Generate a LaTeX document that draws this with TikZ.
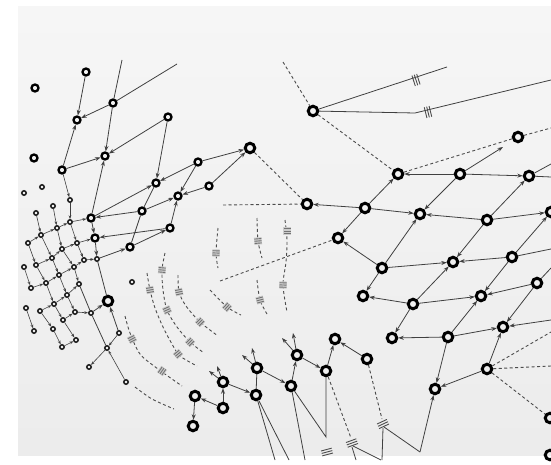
\documentclass[tikz,border=0pt]{standalone}
\usetikzlibrary{arrows.meta,calc}
\begin{document}
\begin{tikzpicture}[x=1pt,y=-1pt,
 bignode/.style={circle,draw=black,line width=3pt,minimum size=9.5pt,inner sep=0pt},
 midnode/.style={circle,draw=black,line width=2.3pt,minimum size=7pt,inner sep=0pt},
 smlnode/.style={circle,draw=black!90,line width=1.5pt,minimum size=4.4pt,inner sep=0pt},
 ln/.style={draw=black!75,line width=0.8pt},
 ar/.style={ln,-{Stealth[length=5.5pt,width=4pt]}},
 sar/.style={ln,line width=0.6pt,-{Stealth[length=3.8pt,width=2.8pt]}},
 dsh/.style={draw=black!70,line width=0.9pt,dash pattern=on 3pt off 2.5pt},
 hst/.style={draw=black!55,line width=0.9pt},
 hatchS/.pic={\fill[black!20] (-3.6,-3.8) rectangle (3.6,3.8); \draw[hst] (-2.2,-3.5)--(-2.2,3.5) (0,-3.5)--(0,3.5) (2.2,-3.5)--(2.2,3.5);},
 hatchL/.pic={\draw[hst,draw=black!70] (-2.5,-5.5)--(-2.5,5.5) (0,-5.5)--(0,5.5) (2.5,-5.5)--(2.5,5.5);}]
\useasboundingbox (0,0) rectangle (551,465);
\fill[white] (0,0) rectangle (551,465);
\shade[top color=gray!7,bottom color=gray!15] (18,7) rectangle (551,455);

% ---------- upper-left tree ----------
\node[midnode] (a1) at (35,88) {};
\node[midnode] (a2) at (86,72) {};
\node[midnode] (a3) at (113,103) {};
\node[midnode] (a4) at (77,120) {};
\node[midnode] (a5) at (168,117) {};
\node[midnode] (a6) at (34,158) {};
\node[midnode] (a7) at (105,156) {};
\node[midnode] (a8) at (62,170) {};
\node[midnode] (a9) at (198,162) {};
\node[bignode] (b0) at (250,148) {};
\node[midnode] (b1) at (209,186) {};
\node[midnode] (b2) at (156,183) {};
\node[midnode] (b3) at (178,196) {};
\node[midnode] (b4) at (142,211) {};
\node[midnode] (b5) at (91,218) {};
\node[midnode] (b6) at (170,228) {};
\node[midnode] (b7) at (95,238) {};
\node[midnode] (b8) at (130,247) {};
\node[smlnode] (s1) at (24,193) {};
\node[smlnode] (s2) at (42,187) {};
\coordinate (f1) at (122,60);
\coordinate (f2) at (177,64);

% ---------- lattice ----------
\node[smlnode] (l02) at (36,213) {};
\node[smlnode] (l03) at (53,206) {};
\node[smlnode] (l04) at (70,200) {};
\node[smlnode] (l11) at (28,243) {};
\node[smlnode] (l12) at (41,235) {};
\node[smlnode] (l13) at (57,228) {};
\node[smlnode] (l14) at (70,222) {};
\node[smlnode] (l20) at (24,267) {};
\node[smlnode] (l21) at (36,265) {};
\node[smlnode] (l22) at (52,258) {};
\node[smlnode] (l23) at (62,249) {};
\node[smlnode] (l24) at (77,243) {};
\node[smlnode] (l30) at (31,288) {};
\node[smlnode] (l31) at (46,283) {};
\node[smlnode] (l32) at (59,275) {};
\node[smlnode] (l33) at (74,267) {};
\node[smlnode] (l34) at (84,260) {};
\node[smlnode] (l35) at (97,259) {};
\node[smlnode] (l4m) at (26,308) {};
\node[smlnode] (l40) at (40,311) {};
\node[smlnode] (l41) at (54,304) {};
\node[smlnode] (l42) at (67,295) {};
\node[smlnode] (l43) at (79,284) {};
\node[smlnode] (l50) at (34,331) {};
\node[smlnode] (l51) at (53,329) {};
\node[smlnode] (l52) at (63,320) {};
\node[smlnode] (l53) at (75,312) {};
\node[smlnode] (l54) at (91,313) {};
\node[smlnode] (l61) at (62,347) {};
\node[smlnode] (l62) at (76,340) {};
\node[bignode] (c0) at (108,301) {};
\node[smlnode] (c1) at (132,282) {};
\node[smlnode] (c2) at (119,333) {};
\node[smlnode] (c3) at (107,348) {};
\node[smlnode] (c4) at (89,367) {};
\node[smlnode] (c5) at (126,382) {};

% ---------- lower middle group ----------
\node[bignode] (d1) at (297,355) {};
\node[bignode] (d2) at (335,339) {};
\node[bignode] (d3) at (367,359) {};
\node[bignode] (d4) at (326,371) {};
\node[bignode] (d5) at (291,386) {};
\node[bignode] (d6) at (257,368) {};
\node[bignode] (d7) at (223,382) {};
\node[bignode] (d8) at (256,395) {};
\node[bignode] (d9) at (195,396) {};
\node[bignode] (d10) at (223,408) {};
\node[bignode] (d11) at (193,426) {};

% ---------- right group ----------
\node[bignode] (e0) at (313,111) {};
\node[bignode] (e1) at (398,174) {};
\node[bignode] (e2) at (460,174) {};
\node[bignode] (e3) at (518,137) {};
\node[bignode] (e4) at (529,176) {};
\node[bignode] (e5) at (307,204) {};
\node[bignode] (e6) at (365,208) {};
\node[bignode] (e7) at (420,214) {};
\node[bignode] (e8) at (487,220) {};
\node[bignode] (e9) at (551,212) {};
\node[bignode] (e10) at (338,238) {};
\node[bignode] (e11) at (382,268) {};
\node[bignode] (e12) at (363,296) {};
\node[bignode] (e13) at (413,304) {};
\node[bignode] (e14) at (453,262) {};
\node[bignode] (e15) at (512,257) {};
\node[bignode] (e16) at (481,296) {};
\node[bignode] (e17) at (537,283) {};
\node[bignode] (e18) at (448,337) {};
\node[bignode] (e19) at (503,327) {};
\node[bignode] (e20) at (392,338) {};
\node[bignode] (e21) at (487,369) {};
\node[bignode] (e22) at (435,389) {};
\node[bignode] (e23) at (550,418) {};
\node[bignode] (e24) at (550,455) {};

\coordinate (f3) at (447,67);
\coordinate (f4) at (415,113);
\coordinate (f5) at (551,80);
\coordinate (f6) at (283,62);
\coordinate (f7) at (551,128);
\coordinate (f8) at (223,205);
\coordinate (f9) at (220,281);
\coordinate (f10) at (503,147);
\coordinate (f11) at (551,164);
\coordinate (f12) at (551,177);
\coordinate (f13) at (551,249);
\coordinate (f14) at (551,268);
\coordinate (f15) at (551,320);
\coordinate (f16) at (551,332);
\coordinate (f17) at (551,366);
\coordinate (f18) at (293,333);
\coordinate (f19) at (282,338);
\coordinate (f20) at (252,348);
\coordinate (f21) at (242,355);
\coordinate (f22) at (217,366);
\coordinate (f23) at (209,371);
\coordinate (f24) at (275,460);
\coordinate (f25) at (289,460);
\coordinate (f26) at (305,460);
\coordinate (v1) at (326,437);
\coordinate (h1) at (352,443);
\coordinate (f28) at (356,460);
\coordinate (f29) at (381,460);
\coordinate (h2) at (383,424);
\coordinate (v2) at (420,452);
\coordinate (f31) at (382,460);
\coordinate (h3) at (327,452);

% ---------- dashed lines ----------
\draw[dsh] (f6) -- (e0) -- (e1);
\draw[dsh] (e1) -- (e3);
\draw[dsh] (e3) -- (f7);
\draw[dsh] (b0) -- (e5);
\draw[dsh] (f8) -- (e5);
\draw[dsh] (f9) -- (e10);
\draw[dsh] (e21) -- (f16);
\draw[dsh] (e21) -- (f17);
\draw[dsh] (e21) -- (e23);
\draw[dsh] (d4) -- ($(h1)+(-1,-5)$);
\draw[dsh] (d3) -- ($(h2)+(-1,-5)$);
% arcs
\draw[dsh] plot[smooth] coordinates {(125,316) (130,333) (140,354) (158,369) (182,386)};
\draw[dsh] plot[smooth] coordinates {(135,387) (152,399) (174,409)};
\draw[dsh] plot[smooth] coordinates {(147,273) (150,290) (155,308) (163,327) (172,344) (180,356) (197,366)};
\draw[dsh] plot[smooth] coordinates {(165,253) (162,270) (163,290) (167,310) (177,327) (190,342) (204,353)};
\draw[dsh] plot[smooth] coordinates {(178,275) (179,292) (186,306) (200,322) (218,336)};
\draw[dsh] plot[smooth] coordinates {(218,228) (216,253) (218,268)};
\draw[dsh] plot[smooth] coordinates {(210,290) (227,307) (241,315)};
\draw[dsh] plot[smooth] coordinates {(257,218) (258,241) (262,258)};
\draw[dsh] plot[smooth] coordinates {(257,280) (260,300) (267,314)};
\draw[dsh] plot[smooth] coordinates {(285,220) (287,240) (286,262) (283,285) (287,312)};

% hatches on arcs
\pic[rotate=-63] at (132,339) {hatchS};
\pic[rotate=-35] at (162,371) {hatchS};
\pic[rotate=-80] at (150,290) {hatchS};
\pic[rotate=-50] at (178,354) {hatchS};
\pic[rotate=-95] at (162,270) {hatchS};
\pic[rotate=-66] at (167,310) {hatchS};
\pic[rotate=-45] at (190,342) {hatchS};
\pic[rotate=-78] at (179,292) {hatchS};
\pic[rotate=-45] at (200,322) {hatchS};
\pic[rotate=-92] at (216,253) {hatchS};
\pic[rotate=-42] at (227,307) {hatchS};
\pic[rotate=-85] at (258,241) {hatchS};
\pic[rotate=-75] at (260,300) {hatchS};
\pic[rotate=-90] at (287,231) {hatchS};
\pic[rotate=-92] at (283,285) {hatchS};

% ---------- solid lines upper-left ----------
\draw[ln] (f1) -- (a3);
\draw[ln] (f2) -- (a3);
\draw[ar] (a3) -- (a7);
\draw[ar] (a3) -- (a4);
\draw[ar] (a2) -- (a4);
\draw[ar] (a8) -- (a4);
\draw[ar] (a8) -- (a7);
\draw[ar] (a5) -- (a7);
\draw[ar] (a5) -- (b2);
\draw[ar] (a9) -- (b0);
\draw[ar] (b1) -- (b0);
\draw[ar] (a9) -- (b2);
\draw[ar] (a9) -- (b3);
\draw[ar] (b1) -- (b3);
\draw[ar] (b5) -- (b2);
\draw[ar] (b5) -- (a7);
\draw[ar] (b4) -- (b5);
\draw[ar] (b4) -- (b3);
\draw[ar] (b6) -- (b3);
\draw[ar] (b6) -- (b7);
\draw[ln] (b2) -- (b4) -- (b8);
\draw[ar] (b8) -- (b6);
\draw[sar] (a8) -- (l04);

% lattice rows
\draw[sar] (l11) -- (l12); \draw[sar] (l12) -- (l13); \draw[sar] (l13) -- (l14); \draw[sar] (l14) -- (b5);
\draw[sar] (l21) -- (l22); \draw[sar] (l22) -- (l23); \draw[sar] (l23) -- (l24); \draw[sar] (l24) -- (b7);
\draw[sar] (l30) -- (l31); \draw[sar] (l31) -- (l32); \draw[sar] (l32) -- (l33); \draw[sar] (l33) -- (l34); \draw[sar] (l34) -- (l35); \draw[ar] (l35) -- (b8);
\draw[sar] (l40) -- (l41); \draw[sar] (l41) -- (l42); \draw[sar] (l42) -- (l43);
\draw[sar] (l52) -- (l53); \draw[sar] (l53) -- (l54); \draw[ar] (l54) -- (c0);
\draw[sar] (l61) -- (l62);
% lattice columns
\draw[sar] (l02) -- (l12); \draw[sar] (l03) -- (l13); \draw[sar] (l04) -- (l14);
\draw[sar] (l11) -- (l21); \draw[sar] (l12) -- (l22); \draw[sar] (l13) -- (l23); \draw[sar] (l14) -- (l24); \draw[ar] (b5) -- (b7);
\draw[sar] (l20) -- (l30); \draw[sar] (l21) -- (l31); \draw[sar] (l22) -- (l32); \draw[sar] (l23) -- (l33); \draw[sar] (l24) -- (l34); \draw[ar] (b7) -- (l35);
\draw[sar] (l31) -- (l41); \draw[sar] (l32) -- (l42); \draw[sar] (l33) -- (l43);
\draw[sar] (l4m) -- (l50); \draw[sar] (l40) -- (l51); \draw[sar] (l41) -- (l52); \draw[sar] (l42) -- (l53);
\draw[ln] (l43) -- (l54) -- (c3);
\draw[sar] (l51) -- (l61); \draw[sar] (l52) -- (l62);
\draw[ln] (l35) -- (c0);
\draw[ar] (c2) -- (c0);
\draw[sar] (c2) -- (c3);
\draw[sar] (c3) -- (c4);
\draw[sar] (c5) -- (c3);

% ---------- lower middle ----------
\draw[ar] (d3) -- (d2);
\draw[ar] (d4) -- (d2);
\draw[ar] (d1) -- (f18);
\draw[ar] (d1) -- (f19);
\draw[ar] (d1) -- (d4);
\draw[ar] (d5) -- (d1);
\draw[ar] (d6) -- (d5);
\draw[ln] (d6) -- (d8);
\draw[ar] (d6) -- (f20);
\draw[ar] (d6) -- (f21);
\draw[ar] (d7) -- (f22);
\draw[ar] (d7) -- (f23);
\draw[ar] (d7) -- (d8);
\draw[ar] (d10) -- (d7);
\draw[ar] (d10) -- (d9);
\draw[ar] (d9) -- (d11);
\draw[ln] (d8) -- (f24);
\draw[ln] (d8) -- (f25);
\draw[ln] (d5) -- (f26);
\draw[ln] (d5) -- (v1) -- (d4);
\draw[ln] ($(h1)+(0,4)$) -- (f28);
\draw[ln] ($(h1)+(1,3)$) -- (f29);
\draw[ln] ($(h2)+(1,3)$) -- (v2);
\draw[ln] ($(h2)+(0,4)$) -- (f31);
\draw[ar] (v2) -- (e22);
\pic[rotate=-70] at (h1) {hatchL};
\pic[rotate=-65] at (h2) {hatchL};
\pic[rotate=-75] at (h3) {hatchL};

% ---------- right group ----------
\draw[ln] (e0) -- (f3);
\draw[ln] (e0) -- (f4) -- (f5);
\pic[rotate=18] at (416,80) {hatchL};
\pic[rotate=14] at (428,112) {hatchL};
\draw[ar] (e2) -- (e1);
\draw[ar] (e2) -- (e7);
\draw[ar] (e2) -- (f10);
\draw[ar] (e2) -- (e4);
\draw[ar] (e6) -- (e1);
\draw[ar] (e6) -- (e5);
\draw[ar] (e6) -- (e7);
\draw[ar] (e6) -- (e10);
\draw[ar] (e8) -- (e7);
\draw[ar] (e8) -- (e4);
\draw[ar] (e8) -- (e9);
\draw[ar] (e8) -- (e14);
\draw[ln] (e4) -- (f11);
\draw[ln] (e4) -- (f12);
\draw[ar] (e11) -- (e10);
\draw[ar] (e11) -- (e12);
\draw[ar] (e11) -- (e7);
\draw[ar] (e11) -- (e14);
\draw[ar] (e15) -- (e14);
\draw[ar] (e15) -- (e16);
\draw[ar] (e15) -- (e9);
\draw[ln] (e15) -- (f13);
\draw[ar] (e13) -- (e14);
\draw[ar] (e13) -- (e12);
\draw[ar] (e13) -- (e16);
\draw[ar] (e13) -- (e20);
\draw[ar] (e17) -- (e16);
\draw[ar] (e17) -- (e19);
\draw[ln] (e17) -- (f14);
\draw[ar] (f15) -- (e19);
\draw[ar] (e18) -- (e20);
\draw[ar] (e18) -- (e16);
\draw[ar] (e18) -- (e19);
\draw[ar] (e18) -- (e22);
\draw[ar] (e21) -- (e22);
\draw[ar] (e21) -- (e19);
\end{tikzpicture}
\end{document}
